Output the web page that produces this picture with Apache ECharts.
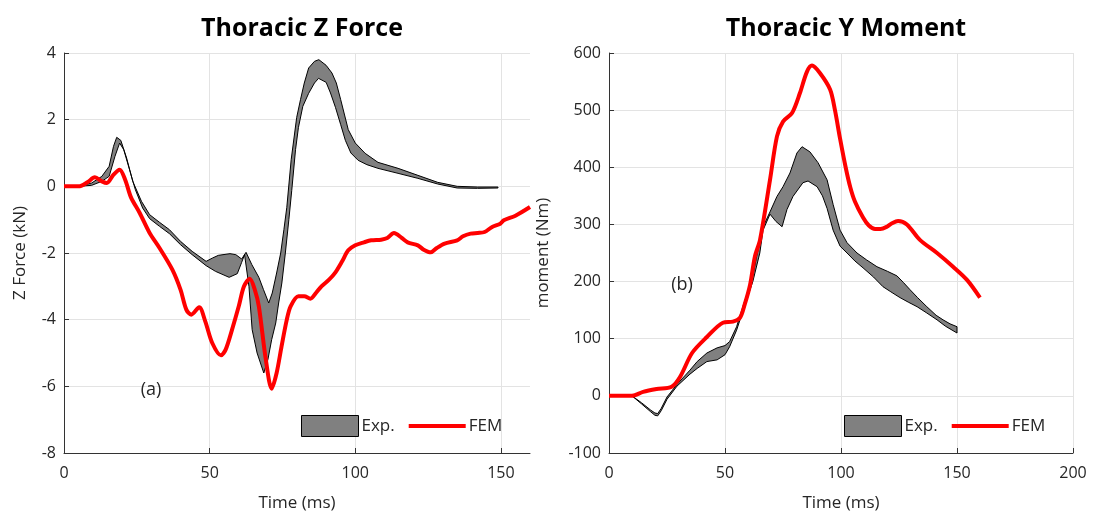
<!DOCTYPE html>
<html><head><meta charset="utf-8">
<script src="https://cdn.jsdelivr.net/npm/echarts@6/dist/echarts.min.js"></script>
<style>html,body{margin:0;padding:0;background:#fff}#c{width:1096px;height:519px}</style>
</head><body><div id="c"></div>
<script>
// ---- Panel (a): Thoracic Z Force ----
const fzFemT = [0,5,8,10.6,13,14.7,17,19.1,21,23,26,29.4,32.8,37.2,40,42,43.7,46.4,48.5,50.9,53.9,55.5,57.7,60,61.8,63.8,65.5,66.9,69.3,71.3,73,74.7,76.5,77.8,80.5,82.5,84.6,86.5,88.4,91,93.2,95.5,97.6,100,103,105.5,108.9,111,113.3,116,118,121.5,123.5,125.9,128,130.7,135,137,139.6,142,144.4,147,149.8,151,155,160];
const fzFemV = [0,0,0.12,0.27,0.15,0.1,0.35,0.5,0.2,-0.33,-0.8,-1.4,-1.85,-2.5,-3.1,-3.7,-3.85,-3.63,-4.05,-4.7,-5.07,-4.9,-4.3,-3.6,-3.0,-2.77,-3.1,-3.6,-5.2,-6.07,-5.6,-4.8,-4.0,-3.6,-3.3,-3.3,-3.37,-3.2,-3.0,-2.8,-2.58,-2.25,-1.92,-1.77,-1.68,-1.62,-1.6,-1.55,-1.4,-1.55,-1.68,-1.77,-1.9,-1.98,-1.85,-1.72,-1.62,-1.5,-1.42,-1.4,-1.37,-1.22,-1.12,-1.02,-0.88,-0.62];

const fzUpT = [5,9.5,13,15.5,17,18.1,19.5,21.5,23.6,26.6,29.4,32.8,36.2,40,44,48.8,51,53,57,59,61,62.5,64.5,66.9,68.5,70.3,71.5,73,74.4,75.5,76.5,78,79.9,81.2,82.5,84,86,87.5,90,92,93.5,95,97.6,100,103.4,107.8,114.7,121.5,128.3,135,142,149];
const fzUpV = [0,0.1,0.3,0.6,1.2,1.47,1.38,0.85,0.15,-0.45,-0.85,-1.08,-1.3,-1.65,-1.95,-2.25,-2.15,-2.07,-2.02,-2.05,-2.18,-1.98,-2.35,-2.73,-3.1,-3.5,-3.2,-2.6,-2.0,-1.3,-0.63,0.8,2.07,2.6,3.1,3.55,3.75,3.8,3.63,3.4,3.1,2.6,1.7,1.3,0.99,0.72,0.54,0.33,0.12,0.0,-0.02,-0.02];
const fzLoT = [5,9.5,13,15.5,17.5,19.1,20.5,22.5,24.5,27,29.4,32.8,36.2,40,44,48.8,52,56.7,59.5,61,62,63.5,64.6,66.3,68.6,70,71.3,72.7,73.7,74.8,76,77.2,78.2,79.5,80.5,82,84,86,87.4,90,91.5,93.2,95,96.6,98.5,101,104,107.8,114.7,121.5,128.3,135,142,149];
const fzLoV = [0,0.03,0.15,0.3,0.9,1.3,1.1,0.5,-0.1,-0.65,-0.97,-1.2,-1.42,-1.75,-2.05,-2.38,-2.55,-2.73,-2.62,-2.28,-2.05,-3.0,-4.3,-5.0,-5.6,-5.2,-4.6,-4.1,-3.5,-2.9,-2.0,-1.0,-0.12,1.1,1.77,2.4,2.79,3.1,3.24,3.12,2.8,2.37,1.85,1.38,1.0,0.78,0.65,0.54,0.39,0.24,0.07,-0.05,-0.06,-0.05];

// ---- Panel (b): Thoracic Y Moment ----
const myFemT = [0,9.9,14.7,20.5,27,30.6,35.8,42.2,49.1,53.4,56.5,58.5,60.8,62.9,65.1,69.4,72.4,75,78.9,82.3,85.3,87.5,90.9,95.3,97.4,99.6,102,104,106,109.5,112,114.7,117,119.8,122,124.6,128.4,134,141.4,148.3,154.3,159.9];
const myFemV = [0,0,7,12,16,33,75,103,128,130,137,160,194,244,273,378,454,480,495,530,567,578,565,536,500,450,400,365,340,312,298,292,292,296,302,306,300,273,250,226,203,172];

const myUpT = [9.9,14,18,19.8,21,22.5,25,29.3,34.9,38,42.2,46.6,50,52,55,58,62,63.6,66.4,69.4,72.4,75,78,81,83.2,86.6,90.1,94,96.6,99.6,102.6,106.9,111,115.5,120,124.1,127,129.7,133,137,141,144,147,150];
const myUpV = [0,-12,-25,-30,-31,-22,-2,20,45,60,75,84,88,95,121,160,210,243,296,322,349,366,390,425,436,427,408,378,335,290,268,250,238,226,218,210,198,186,172,156,141,133,126,121];
const myLoT = [9.9,14,18,19.8,21,22.5,25,29.3,34.9,38,42.2,46.6,50,52,55,58,62,65,66.4,69.4,72,74.6,76.7,79.3,83.6,85.8,89.7,92,94,96.6,99.6,102.6,106,109.5,114,118.1,121.5,125.4,129,132.8,137,141.4,145,150];
const myLoV = [0,-14,-28,-34,-35,-26,-6,17,38,48,60,63,72,86,115,152,200,250,290,318,305,296,326,349,373,376,366,350,328,290,262,250,236,224,208,191,182,172,164,156,145,133,122,110];

const xTicksA = {min:0, max:160, interval:50};
const yTicksA = {min:-8, max:4, interval:2};
const xTicksB = {min:0, max:200, interval:50};
const yTicksB = {min:-100, max:600, interval:100};

const FONT = 'Open Sans';
const TXT = '#262626';

function pairs(t, v){ return t.map((x,i)=>[x, v[i]]); }

function bandRender(upT, upV, loT, loV){
  return function(params, api){
    if (params.dataIndex !== 0) return null;
    const pts = [];
    for (let i=0;i<upT.length;i++) pts.push(api.coord([upT[i], upV[i]]));
    for (let i=loT.length-1;i>=0;i--) pts.push(api.coord([loT[i], loV[i]]));
    return {type:'polygon', shape:{points:pts}, style:{fill:'#808080', stroke:'#000', lineWidth:1}};
  };
}

function xAxisCfg(grid, t){
  return {gridIndex:grid, type:'value', min:t.min, max:t.max, interval:t.interval,
    name:'Time (ms)', nameLocation:'middle', nameGap:42,
    nameTextStyle:{fontFamily:FONT, fontSize:17, color:TXT},
    axisLine:{show:true, onZero:false, lineStyle:{color:'#333', width:1}},
    axisTick:{show:true, inside:true, length:5, lineStyle:{color:'#333'}},
    axisLabel:{fontFamily:FONT, fontSize:16, color:TXT, margin:12, showMaxLabel: t.max % t.interval === 0},
    splitLine:{show:true, showMaxLine: t.max % t.interval === 0, lineStyle:{color:'#e3e3e3', width:1}}};
}
function yAxisCfg(grid, t, name, gap){
  return {gridIndex:grid, type:'value', min:t.min, max:t.max, interval:t.interval,
    name:name, nameLocation:'middle', nameGap:gap,
    nameTextStyle:{fontFamily:FONT, fontSize:17, color:TXT},
    axisLine:{show:true, onZero:false, lineStyle:{color:'#333', width:1}},
    axisTick:{show:true, inside:true, length:5, lineStyle:{color:'#333'}},
    axisLabel:{fontFamily:FONT, fontSize:16, color:TXT, margin:8},
    splitLine:{show:true, lineStyle:{color:'#e3e3e3', width:1}}};
}

const legendData = [
  {name:'Exp.', icon:'rect', itemStyle:{color:'#808080', borderColor:'#000', borderWidth:1}},
  {name:'FEM', icon:'path://M0,0L0,0M57,21L57,21M0,8.5L57,8.5L57,12.5L0,12.5Z', itemStyle:{color:'#ff0000', borderWidth:0}}
];
function legendCfg(left){
  return {left:left, top:410, orient:'horizontal', itemWidth:57, itemHeight:21, itemGap:14,
    selectedMode:false, data:legendData,
    textStyle:{fontFamily:FONT, fontSize:17, color:TXT, padding:[0,0,0,-2]}};
}

const chart = echarts.init(document.getElementById('c'), null, {renderer:'canvas'});
chart.setOption({
  animation:false,
  backgroundColor:'#fff',
  title:[
    {text:'Thoracic Z Force', left:297, top:11, textAlign:'center', textStyle:{fontFamily:FONT, fontWeight:'bold', fontSize:25, color:'#000'}},
    {text:'Thoracic Y Moment', left:841, top:11, textAlign:'center', textStyle:{fontFamily:FONT, fontWeight:'bold', fontSize:25, color:'#000'}},
    {text:'(a)', left:151, top:381, textAlign:'center', padding:0, textStyle:{fontFamily:FONT, fontWeight:'normal', fontSize:18, color:TXT}},
    {text:'(b)', left:682, top:276, textAlign:'center', padding:0, textStyle:{fontFamily:FONT, fontWeight:'normal', fontSize:18, color:TXT}}
  ],
  grid:[
    {left:64, top:53, width:466, height:400},
    {left:609, top:53, width:464, height:400}
  ],
  legend:[legendCfg(296), legendCfg(839)],
  xAxis:[xAxisCfg(0, xTicksA), xAxisCfg(1, xTicksB)],
  yAxis:[yAxisCfg(0, yTicksA, 'Z Force (kN)', 35), yAxisCfg(1, yTicksB, 'moment (Nm)', 57)],
  series:[
    {name:'Exp.', type:'custom', xAxisIndex:0, yAxisIndex:0, clip:true,
      itemStyle:{color:'#808080', borderColor:'#000', borderWidth:1},
      renderItem:bandRender(fzUpT, fzUpV, fzLoT, fzLoV),
      data:pairs(fzUpT, fzUpV).concat(pairs(fzLoT, fzLoV)), encode:{x:0, y:1}},
    {name:'FEM', type:'line', xAxisIndex:0, yAxisIndex:0, symbol:'none', smooth:0.3,
      lineStyle:{color:'#ff0000', width:4}, itemStyle:{color:'#ff0000'},
      data:pairs(fzFemT, fzFemV)},
    {name:'Exp.', type:'custom', xAxisIndex:1, yAxisIndex:1, clip:true,
      itemStyle:{color:'#808080', borderColor:'#000', borderWidth:1},
      renderItem:bandRender(myUpT, myUpV, myLoT, myLoV),
      data:pairs(myUpT, myUpV).concat(pairs(myLoT, myLoV)), encode:{x:0, y:1}},
    {name:'FEM', type:'line', xAxisIndex:1, yAxisIndex:1, symbol:'none', smooth:0.3,
      lineStyle:{color:'#ff0000', width:4}, itemStyle:{color:'#ff0000'},
      data:pairs(myFemT, myFemV)}
  ]
});
</script>
</body></html>
